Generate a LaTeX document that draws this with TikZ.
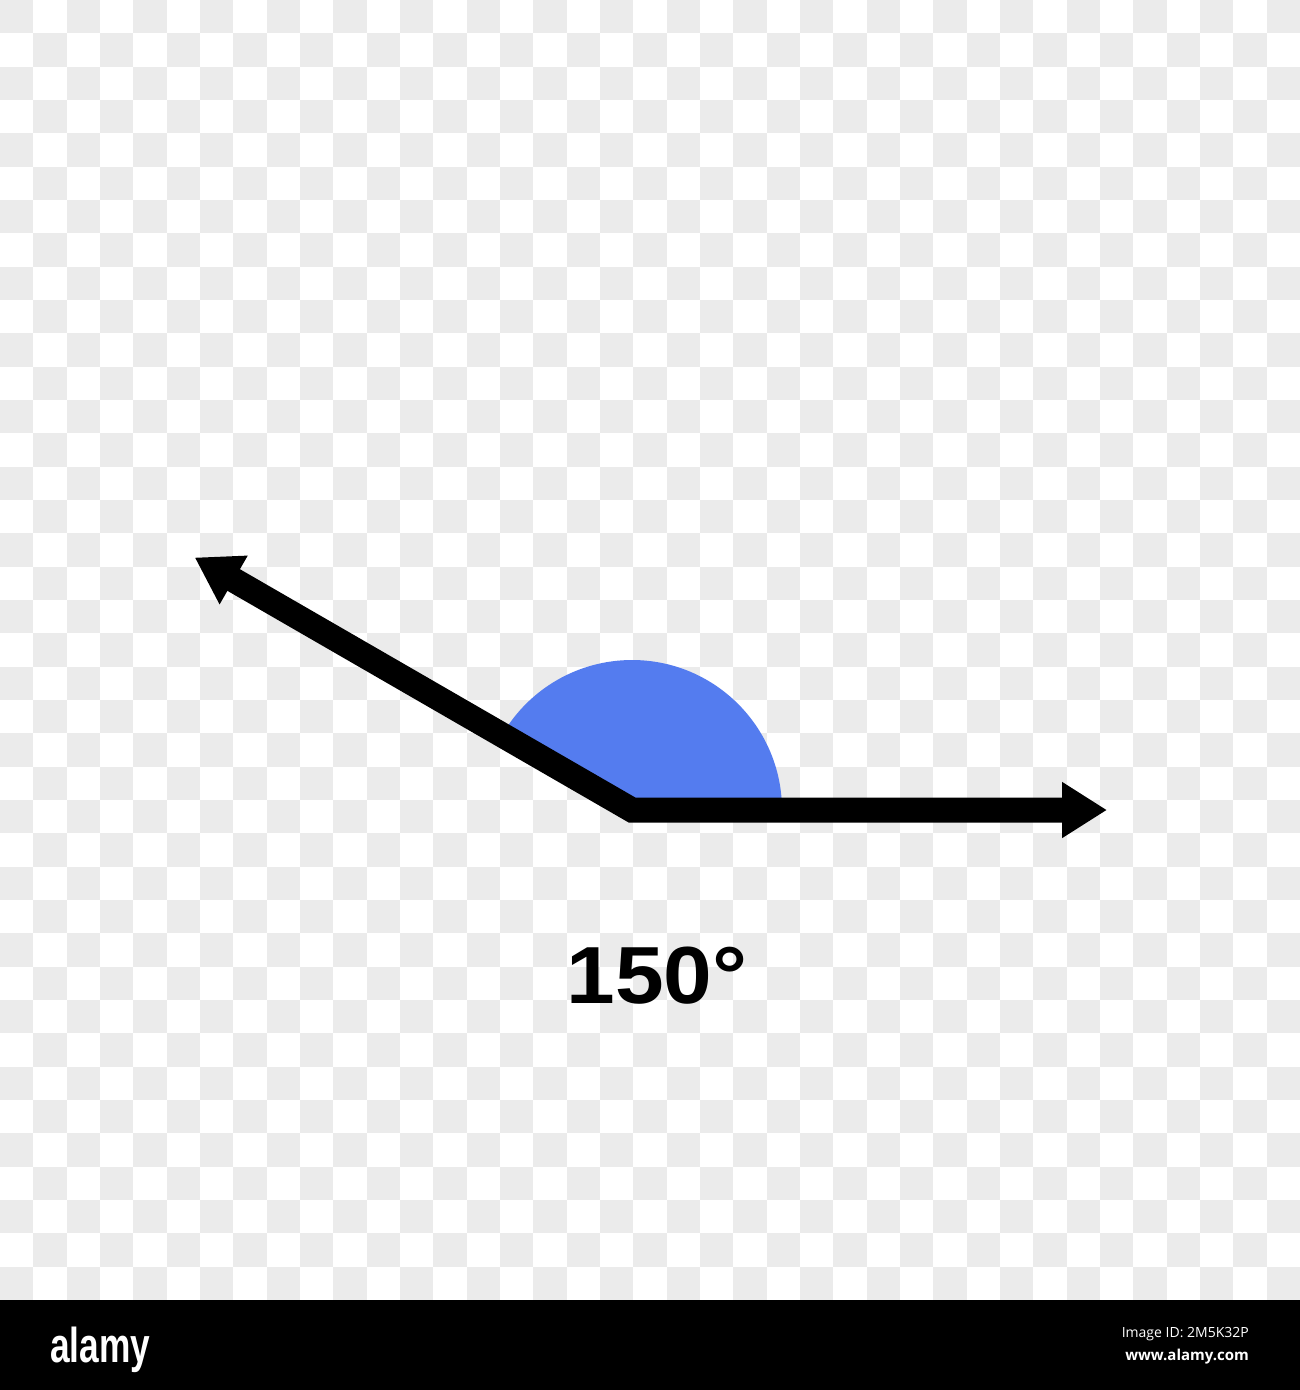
\documentclass[tikz,border=0pt]{standalone}
\usepackage{fontspec}
\setmainfont{Liberation Sans}
\newfontfamily\opensans{Open Sans}
\usetikzlibrary{arrows.meta}
\definecolor{checkgray}{RGB}{235,235,235}
\definecolor{angleblue}{RGB}{84,124,239}
\tikzset{
  raystyle/.style={line width=25pt, line join=miter, black,
    {Triangle[length=45pt,width=53pt]}-{Triangle[length=45pt,width=53pt]}},
  labelstyle/.style={inner sep=0pt, anchor=base},
  barstyle/.style={inner sep=0pt, text=white}
}
\begin{document}
\begin{tikzpicture}[x=1pt,y=-1pt]
\useasboundingbox (0,0) rectangle (1300,1390);
\fill[white] (0,0) rectangle (1300,1300);
% checkerboard
\def\sq{33.33333}
\foreach \i in {0,2,...,38}{
  \foreach \j in {0,2,...,38}{
    \fill[checkgray] ({\i*\sq},{\j*\sq}) rectangle ++(\sq,\sq);
  }
}
\foreach \i in {1,3,...,37}{
  \foreach \j in {1,3,...,37}{
    \fill[checkgray] ({\i*\sq},{\j*\sq}) rectangle ++(\sq,\sq);
  }
}
% angle
\coordinate (v) at (632,810);
\coordinate (lt) at (194.7,557.5);
\coordinate (rt) at (1107,810);
\fill[angleblue] (v) -- ++(150,0) arc[start angle=0, end angle=-150, radius=150] -- cycle;
\draw[raystyle] (lt) -- (v) -- (rt);
\node[labelstyle] (lbl) at (657,1003) {\scalebox{1.08}[1]{\fontsize{81}{81}\selectfont\bfseries 150°}};
% bottom bar
\fill[black] (0,1300) rectangle (1300,1390);
\node[barstyle, anchor=base west] (logo) at (50,1362) {\scalebox{0.72}[1]{\fontsize{49}{49}\selectfont\bfseries alamy}};
\node[barstyle, anchor=base east] (imgid) at (1249,1337) {\opensans\fontsize{14}{14}\selectfont Image ID: 2M5K32P};
\node[barstyle, anchor=base east] (www) at (1249,1360) {\opensans\fontsize{15}{15}\selectfont\bfseries www.alamy.com};
\end{tikzpicture}
\end{document}
